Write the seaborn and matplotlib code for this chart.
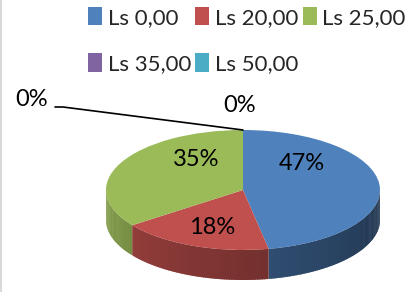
import numpy as np
import matplotlib
matplotlib.use("Agg")
import matplotlib.pyplot as plt
import seaborn as sns

# data
categories = ["Ls 0,00", "Ls 20,00", "Ls 25,00", "Ls 35,00", "Ls 50,00"]
shares = [47, 18, 35, 0, 0]
colors = ["#4F81BD", "#C0504D", "#9BBB59", "#8064A2", "#4BACC6"]

sns.set_style("white")
plt.rcParams["font.family"] = ["Lato", "DejaVu Sans"]

W, H = 410, 292
CX, CY, RX, RY, DEPTH = 243, 190, 137, 60, 30

fig = plt.figure(figsize=(W / 100, H / 100), dpi=100)
ax = fig.add_axes([0, 0, 1, 1])


def px(x, y):
    # pixel position -> data position (pie radius 1)
    return (x - CX) / RX, (CY - y) / RY


d = DEPTH / RY
vals = np.array(shares, dtype=float)
frac = vals / vals.sum()
bounds = 90 - 360 * np.concatenate([[0], np.cumsum(frac)])


def shade(hexcol, f):
    r, g, b = matplotlib.colors.to_rgb(hexcol)
    return (r * f, g * f, b * f)


# side of the 3D pie (front half only)
for i, col in enumerate(colors):
    lo, hi = bounds[i + 1], bounds[i]
    lo2, hi2 = max(lo, -180), min(hi, 0)
    if hi2 <= lo2:
        continue
    ts = np.linspace(lo2, hi2, int(hi2 - lo2) + 2)
    for t0, t1 in zip(ts[:-1], ts[1:]):
        tm = (t0 + t1) / 2
        f = 0.85 - 0.45 * (tm + 180) / 180
        a = np.radians([t0, min(t1 + 0.6, hi2)])
        xs = [np.cos(a[0]), np.cos(a[1]), np.cos(a[1]), np.cos(a[0])]
        ys = [np.sin(a[0]), np.sin(a[1]), np.sin(a[1]) - d, np.sin(a[0]) - d]
        ax.fill(xs, ys, color=shade(col, f), lw=0)

wedges, _ = ax.pie(vals, colors=colors, startangle=90, counterclock=False,
                   radius=1, center=(0, 0), wedgeprops=dict(linewidth=0))

ax.set_aspect("auto")
x0, y0 = px(0, H)
x1, y1 = px(W, 0)
ax.set_xlim(x0, x1)
ax.set_ylim(y0, y1)
ax.axis("off")

# percentage labels
lbl_pos = [(302, 163), (212, 228), (196, 160), (32, 100), (240, 106)]
for v, (lx, ly) in zip(shares, lbl_pos):
    tx, ty = px(lx, ly)
    ax.text(tx, ty, f"{v}%", ha="center", va="center", fontsize=17, color="black")

# leader line for the zero slice
lx, ly = zip(px(55, 107), px(63, 107))
top = np.radians(bounds[3])
ax.plot([lx[0], lx[1], np.cos(top)], [ly[0], ly[1], np.sin(top)], color="black", lw=1.2)

# legend filled row by row
order = [0, 3, 1, 4, 2]
leg = ax.legend([wedges[i] for i in order], [categories[i] for i in order],
                ncol=3, loc="upper left",
                bbox_to_anchor=(88 / W, 1 - 7 / H), frameon=False,
                fontsize=16, handlelength=0.63, handleheight=0.9,
                handletextpad=0.25, columnspacing=0.2, labelspacing=1.15,
                borderaxespad=0, borderpad=0)

fig.add_artist(plt.Line2D([1.5 / W, 1.5 / W], [0, 1], color="#D9D9D9", lw=1.5))

fig.savefig("out.png", dpi=100)
